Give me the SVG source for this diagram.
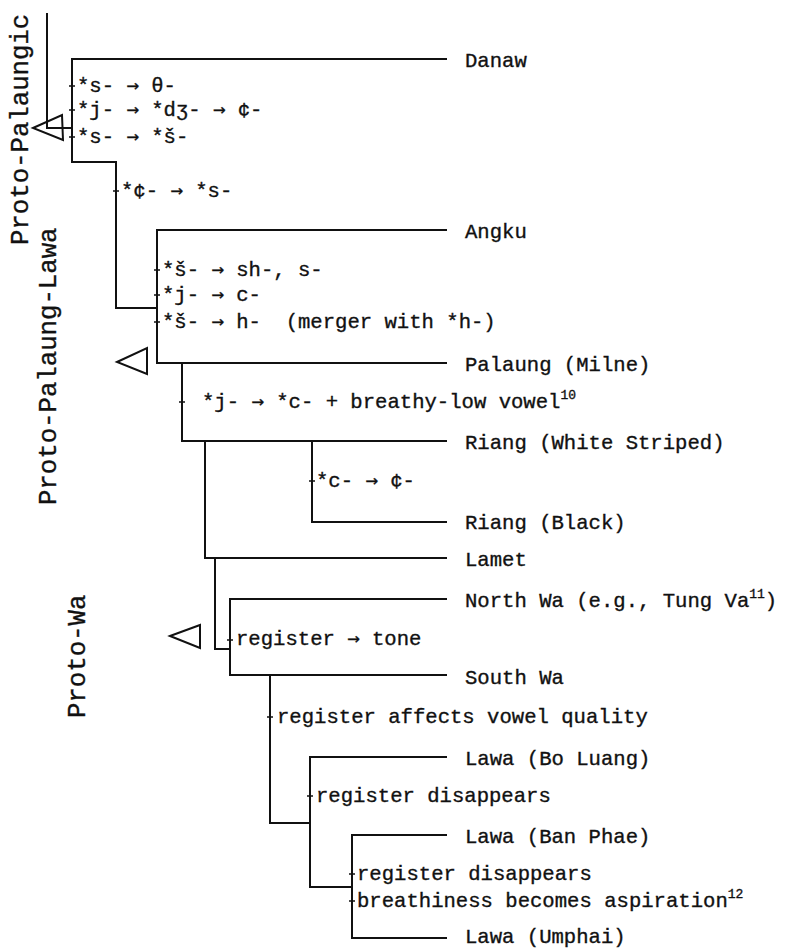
<svg xmlns="http://www.w3.org/2000/svg" width="806" height="948" viewBox="0 0 806 948">
<style>
.t{font-family:"Liberation Mono","DejaVu Sans Mono",monospace;font-size:20.6px;fill:#111;stroke:#111;stroke-width:0.35;white-space:pre}
.p{font-family:"Liberation Mono","DejaVu Sans Mono",monospace;font-size:25.7px;fill:#111;stroke:#111;stroke-width:0.35}
.s{font-size:13px}
.a{font-family:"DejaVu Sans Mono",monospace}
.ln{stroke:#111;stroke-width:2;fill:none}
.tk{stroke:#111;stroke-width:1.5;fill:none}
.tri{stroke:#111;stroke-width:2;fill:none;stroke-linejoin:miter}
</style>
<rect width="806" height="948" fill="#fff"/>
<g id="connectors">
<path class="ln" d="M47,13 V128 H72"/>
<path class="ln" d="M447,59 H72 V162 H116 V308 H157"/>
<path class="ln" d="M447,230 H157 V363 H447"/>
<path class="ln" d="M182,363 V441 H447"/>
<path class="ln" d="M205,441 V558 H447"/>
<path class="ln" d="M312,441 V522 H447"/>
<path class="ln" d="M215,558 V649 H230"/>
<path class="ln" d="M447,599 H230 V675 H447"/>
<path class="ln" d="M270,675 V823 H310"/>
<path class="ln" d="M447,757 H310 V887 H352"/>
<path class="ln" d="M447,835 H352 V938 H447"/>
<g id="ticks">
<path class="tk" d="M69,86 H75 M69,110 H75 M69,137 H75 M113,191 H119 M154,270 H160 M154,295 H160 M154,322 H160 M179,402 H185 M309,481 H315 M227,640 H233 M267,717 H273 M307,796 H313 M349,874 H355 M349,901 H355"/>
</g>
</g>
<g id="proto-palaungic">
<polygon class="tri" points="33,128 62,115 63,140"/>
<text class="p" transform="translate(28,245) rotate(-90)">Proto-Palaungic</text>
</g>
<g id="proto-palaung-lawa">
<polygon class="tri" points="117,362 147,348 147,374"/>
<text class="p" transform="translate(56,505) rotate(-90)">Proto-Palaung-Lawa</text>
</g>
<g id="proto-wa">
<polygon class="tri" points="170,636 200,625 200,648"/>
<text class="p" transform="translate(85,718) rotate(-90)">Proto-Wa</text>
</g>
<g id="danaw"><text class="t" x="465" y="67">Danaw</text></g>
<g id="change-danaw">
<text class="t" x="77" y="92">*s- <tspan class="a">→</tspan> θ-</text>
<text class="t" x="77" y="116">*j- <tspan class="a">→</tspan> *dʒ- <tspan class="a">→</tspan> ¢-</text>
<text class="t" x="77" y="143">*s- <tspan class="a">→</tspan> *š-</text>
</g>
<g id="change-pl"><text class="t" x="121" y="197">*¢- <tspan class="a">→</tspan> *s-</text></g>
<g id="angku"><text class="t" x="465" y="238">Angku</text></g>
<g id="change-angku">
<text class="t" x="162" y="276">*š- <tspan class="a">→</tspan> sh-, s-</text>
<text class="t" x="162" y="301">*j- <tspan class="a">→</tspan> c-</text>
<text class="t" x="162" y="328">*š- <tspan class="a">→</tspan> h-  (merger with *h-)</text>
</g>
<g id="palaung"><text class="t" x="465" y="371">Palaung (Milne)</text></g>
<g id="change-riang"><text class="t" x="202" y="408">*j- <tspan class="a">→</tspan> *c- + breathy-low vowel<tspan class="s" dy="-9">10</tspan></text></g>
<g id="riang-white"><text class="t" x="465" y="449">Riang (White Striped)</text></g>
<g id="change-riang-black"><text class="t" x="316" y="487">*c- <tspan class="a">→</tspan> ¢-</text></g>
<g id="riang-black"><text class="t" x="465" y="529">Riang (Black)</text></g>
<g id="lamet"><text class="t" x="465" y="566">Lamet</text></g>
<g id="north-wa"><text class="t" x="465" y="607">North Wa (e.g., Tung Va<tspan class="s" dy="-9">11</tspan><tspan dy="9">)</tspan></text></g>
<g id="change-wa"><text class="t" x="236" y="645">register <tspan class="a">→</tspan> tone</text></g>
<g id="south-wa"><text class="t" x="465" y="684">South Wa</text></g>
<g id="change-lawa"><text class="t" x="277" y="723">register affects vowel quality</text></g>
<g id="lawa-bo-luang"><text class="t" x="465" y="765">Lawa (Bo Luang)</text></g>
<g id="change-lawa2"><text class="t" x="316" y="802">register disappears</text></g>
<g id="lawa-ban-phae"><text class="t" x="465" y="843">Lawa (Ban Phae)</text></g>
<g id="change-lawa3">
<text class="t" x="357" y="880">register disappears</text>
<text class="t" x="357" y="907">breathiness becomes aspiration<tspan class="s" dy="-9">12</tspan></text>
</g>
<g id="lawa-umphai"><text class="t" x="465" y="943">Lawa (Umphai)</text></g>
</svg>
